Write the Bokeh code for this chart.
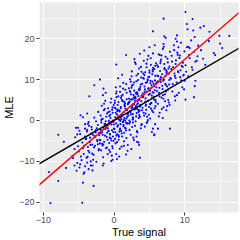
from bokeh.plotting import figure
from bokeh.models import FixedTicker, Slope, ColumnDataSource
from bokeh.embed import file_html
from bokeh.resources import INLINE

# ---- data ----
outlier_x = [7.0,5.5,7.1,7.3,5.75,5.0,7.0,1.7,0.3,
    10.1,11.1,10.3,11.2,12.7,12.2,10.4,11.4,13.5,14.9,16.3,8.9,8.7,15.3,14.3,12.6,11.5,10.5,10.7,9.1,8.9,
    10.1,11.3,8.6,10.0,8.7,
    -2.0,-2.8,-1.5,-3.5,-1.2,-4.75,-3.8,-4.4,-7.9,-5.2,-5.1,-4.1,-7.1,
    -5.1,-5.9,-6.8,-9.2,-7.9,-4.4,-2.9,-9.0,-4.5,-5.6,-4.8,-4.1,-3.6,-3.05,-1.6,-4.2,-3.8,-3.3,
    3.65,1.7,0.4,-0.2,-0.4,0.3,1.05,-0.7,-0.2,
    7.9,6.2,5.5,5.7,3.25]
outlier_y = [24.9,21.8,20.6,20.2,18.4,17.9,18.7,16.0,13.7,
    26.5,24.8,23.6,22.0,23.1,22.7,22.3,20.4,21.7,20.7,20.7,20.8,20.0,17.7,16.0,15.1,14.4,18.0,17.7,17.9,19.3,
    5.1,5.7,5.9,9.7,10.4,
    10.0,8.6,7.8,5.9,6.8,1.25,1.7,0.8,-3.5,-3.4,-1.8,-2.0,-5.2,
    -6.3,-8.7,-11.6,-12.6,-14.8,-15.2,-16.0,-20.2,-20.1,-11.0,-10.7,-11.2,-11.9,-11.0,-11.0,-12.7,-10.3,-10.0,
    -9.1,-8.3,-9.4,-9.6,-9.9,-8.2,-6.4,-7.2,-6.8,
    -2.0,-2.0,-2.0,-3.4,-5.2]

b1_x = [-5.8,-5.5,-5.3,-5.0,-4.9,-4.7,-4.5,-4.3,-4.2,-4.1,-5.6,-5.2,-4.8,-4.6,-4.4,-4.0,-5.4,-4.9,-4.3,-4.1]
b1_y = [-9.2,-4.1,-12.3,-7.6,-2.5,-8.8,-5.4,-13.0,-6.1,-0.9,-7.0,-10.4,-3.3,-9.7,-6.8,-4.6,-1.8,-11.5,-8.2,-3.9]

b2_x = [-3.9,-3.8,-3.7,-3.6,-3.5,-3.4,-3.3,-3.2,-3.1,-3.0,
    -2.9,-2.8,-2.7,-2.6,-2.5,-2.4,-2.3,-2.2,-2.1,-2.0,
    -3.95,-3.75,-3.55,-3.35,-3.15,-2.95,-2.75,-2.55,-2.35,-2.15,
    -3.85,-3.45,-3.05,-2.65,-2.25,-3.65,-3.25,-2.85,-2.45,-2.05,
    -3.7,-3.1,-2.6,-2.3,-2.1]
b2_y = [-9.1,-2.3,-6.5,-0.4,-7.8,-4.2,-11.0,-1.6,-5.9,-3.5,
    -8.4,0.7,-6.2,-2.9,-10.1,-4.8,-1.1,-7.3,-3.0,-5.6,
    -4.4,-8.9,-1.3,-6.0,-2.2,-9.6,-3.8,-0.2,-5.1,-7.0,
    -2.7,-5.3,-12.2,-4.0,2.1,-7.4,-3.2,-6.6,-1.9,-4.7,
    -0.8,-8.1,-2.4,-5.8,-3.6]

b3_x = [-1.95,-1.9,-1.85,-1.8,-1.75,-1.7,-1.65,-1.6,-1.55,-1.5,
    -1.45,-1.4,-1.35,-1.3,-1.25,-1.2,-1.15,-1.1,-1.05,-1.0,
    -0.95,-0.9,-0.85,-0.8,-0.75,-0.7,-0.65,-0.6,-0.55,-0.5,
    -0.45,-0.4,-0.35,-0.3,-0.25,-0.2,-0.15,-0.1,-0.05,-0.02,
    -1.92,-1.72,-1.52,-1.32,-1.12,-0.92,-0.72,-0.52,-0.32,-0.12,
    -1.82,-1.62,-1.42,-1.22,-1.02,-0.82,-0.62,-0.42,-0.22,-0.08,
    -1.88,-1.58,-1.28,-0.98,-0.68,-0.38,-0.18,-1.48,-0.88,-0.28,
    -1.68,-1.18,-0.78,-0.48,-0.58]
b3_y = [-4.8,1.2,-7.3,-0.5,3.6,-2.9,-6.1,0.4,-9.0,-1.8,
    2.5,-5.2,-0.9,-3.7,4.8,-2.1,-6.8,0.9,-4.0,1.7,
    -1.3,-8.2,3.0,-2.6,-0.1,-5.5,2.2,-3.3,-7.7,0.6,
    -4.4,5.3,-1.0,-2.4,-6.3,1.9,-3.9,-0.4,3.8,-2.0,
    -3.1,0.3,-5.9,2.8,-1.6,-4.7,-0.7,1.4,-8.6,-2.8,
    0.1,-3.5,4.1,-1.2,-6.6,2.0,-4.2,-0.3,3.2,-5.0,
    -2.3,6.2,-0.8,-3.0,1.1,-4.9,0.0,-10.5,-1.9,2.6,
    -5.7,-0.2,-2.5,4.4,-3.4]

b4_x = [0.05,0.1,0.15,0.2,0.25,0.3,0.35,0.4,0.45,0.5,
    0.55,0.6,0.65,0.7,0.75,0.8,0.85,0.9,0.95,1.0,
    1.05,1.1,1.15,1.2,1.25,1.3,1.35,1.4,1.45,1.5,
    1.55,1.6,1.65,1.7,1.75,1.8,1.85,1.9,1.95,1.98,
    0.08,0.18,0.28,0.38,0.48,0.58,0.68,0.78,0.88,0.98,
    1.08,1.18,1.28,1.38,1.48,1.58,1.68,1.78,1.88,0.02,
    0.12,0.32,0.52,0.72,0.92,1.12,1.32,1.52,1.72,1.92,
    0.22,0.42,0.62,0.82,1.02,1.22,1.42,1.62,1.82,0.14,
    0.34,0.54,0.74,0.94,1.14,1.34,1.54,1.74,1.94,0.44,
    0.64,0.84,1.04,1.24,1.44,1.64,1.84,0.24,0.86,1.36]
b4_y = [-2.1,4.3,0.8,-5.6,2.9,-0.7,7.1,1.5,-3.4,3.8,
    -1.2,5.9,-4.7,0.2,2.4,-6.9,8.3,-0.9,3.3,-2.6,
    6.0,1.1,-3.9,4.7,-0.3,9.2,2.0,-5.1,0.6,3.6,
    -1.8,7.5,-0.5,2.7,-4.3,5.2,0.9,-7.4,4.0,1.8,
    3.1,-2.9,6.6,0.4,-1.5,10.3,-4.0,2.2,-0.1,5.5,
    -3.2,1.3,7.8,-6.2,3.9,0.0,-2.4,6.8,1.6,-1.0,
    4.9,-3.7,2.6,-8.8,0.7,5.0,-1.4,3.4,8.9,-0.6,
    1.9,-5.3,4.5,-2.2,0.3,6.3,-3.0,2.8,-0.8,-4.5,
    5.7,1.0,-2.7,3.0,11.2,-1.1,4.2,0.5,-6.0,2.3,
    -3.6,7.0,1.4,-0.4,4.6,-1.9,2.5,8.1,-2.0,0.1]

b5_x = [2.02,2.1,2.15,2.2,2.25,2.3,2.35,2.4,2.45,2.5,
    2.55,2.6,2.65,2.7,2.75,2.8,2.85,2.9,2.95,3.0,
    3.05,3.1,3.15,3.2,3.25,3.3,3.35,3.4,3.45,3.5,
    3.55,3.6,3.65,3.7,3.75,3.8,3.85,3.9,3.95,3.98,
    2.08,2.18,2.28,2.38,2.48,2.58,2.68,2.78,2.88,2.98,
    3.08,3.18,3.28,3.38,3.48,3.58,3.68,3.78,3.88,2.12,
    2.32,2.52,2.72,2.92,3.12,3.32,3.52,3.72,3.92,2.22,
    2.42,2.62,2.82,3.02,3.22,3.42,3.62,3.82,2.06,2.26,
    2.46,2.66,2.86,3.06,3.26,3.46,3.66,3.86,2.16,2.36,
    2.56,2.76,2.96,3.16,3.36,3.56,3.76,3.96,2.44,2.84,
    3.24,3.64,2.64,3.04,3.44]
b5_y = [1.2,7.9,-0.8,4.6,10.1,2.3,-3.5,6.4,3.0,12.0,
    -1.6,5.2,8.7,0.4,4.1,-4.8,7.3,2.7,14.2,5.8,
    -0.2,3.5,9.6,1.8,6.9,-2.9,4.8,11.4,2.1,7.6,
    -6.0,5.0,0.9,8.2,3.8,13.1,-1.1,6.1,2.5,9.0,
    4.3,-2.3,7.0,1.5,10.8,3.2,-0.5,5.6,15.0,2.9,
    6.7,-3.9,4.0,9.9,0.6,7.4,3.4,-1.9,11.9,5.3,
    2.0,8.5,-4.2,4.9,1.0,6.6,12.7,3.7,-0.9,7.2,
    5.1,0.2,9.3,3.1,-2.6,6.0,2.4,10.5,4.4,-0.4,
    8.0,1.6,5.5,13.8,2.8,-5.4,7.7,4.7,0.0,9.5,
    3.6,6.2,-1.3,11.0,4.2,1.3,8.8,5.9,-7.0,3.9,
    6.5,16.3,0.8,5.4,2.6]

b6_x = [4.02,4.1,4.15,4.2,4.25,4.3,4.35,4.4,4.45,4.5,
    4.55,4.6,4.65,4.7,4.75,4.8,4.85,4.9,4.95,5.0,
    5.05,5.1,5.15,5.2,5.25,5.3,5.35,5.4,5.45,5.5,
    5.55,5.6,5.65,5.7,5.75,5.8,5.85,5.9,5.95,5.98,
    4.08,4.18,4.28,4.38,4.48,4.58,4.68,4.78,4.88,4.98,
    5.08,5.18,5.28,5.38,5.48,5.58,5.68,5.78,5.88,4.12,
    4.32,4.52,4.72,4.92,5.12,5.32,5.52,5.72,5.92,4.22,
    4.42,4.62,4.82,5.02,5.22,5.42,5.62,5.82,4.06,4.46,
    4.86,5.26,5.66,4.26,4.66,5.06,5.46,5.86,4.76,5.36]
b6_y = [3.1,10.4,6.0,14.6,1.2,8.3,-1.5,11.8,5.4,9.2,
    2.6,13.0,7.1,-0.3,10.0,4.8,15.8,7.9,3.3,12.2,
    6.5,0.5,9.7,13.6,4.2,8.6,-2.8,11.3,6.9,16.4,
    2.0,9.0,5.1,12.6,7.4,-0.9,10.9,4.5,14.0,8.1,
    5.7,1.9,11.1,7.6,3.6,13.9,9.4,0.1,6.3,10.7,
    4.0,15.2,8.0,2.4,12.0,6.8,-3.6,9.8,5.0,11.5,
    7.0,3.9,14.9,1.4,9.1,6.1,12.9,3.0,8.9,10.2,
    4.6,-0.6,7.8,11.7,2.9,9.5,5.8,13.4,6.6,1.7,
    10.6,4.3,8.4,17.1,0.9,7.3,12.4,3.5,9.9,5.5]

b7_x = [6.05,6.1,6.2,6.25,6.3,6.4,6.45,6.5,6.6,6.65,
    6.7,6.8,6.85,6.9,7.0,7.05,7.1,7.2,7.25,7.3,
    7.4,7.45,7.5,7.6,7.65,7.7,7.8,7.85,7.9,7.95,
    6.15,6.35,6.55,6.75,6.95,7.15,7.35,7.55,7.75,6.02,
    6.22,6.42,6.62,6.82,7.02,7.22,7.42,7.62,7.82,6.32,
    6.52,6.72,6.92,7.12,7.32,7.52,7.72,6.18,6.58,6.98,
    7.38,7.78,6.48,6.88,7.28]
b7_y = [7.2,13.5,4.1,10.8,16.2,8.0,1.9,12.1,9.4,14.9,
    5.6,11.3,7.7,17.5,3.2,10.0,13.8,6.4,9.0,15.6,
    2.5,11.9,8.3,14.2,5.0,12.7,9.9,3.8,16.8,10.4,
    11.0,6.8,14.0,2.8,9.7,12.5,7.1,15.1,4.4,9.3,
    13.1,5.9,10.6,8.5,18.0,4.7,11.6,7.5,13.2,1.0,
    10.1,15.9,6.2,12.8,8.7,3.5,11.4,9.6,14.5,5.3,
    12.3,8.8,16.0,0.6,10.9]

b8_x = [8.05,8.15,8.25,8.35,8.45,8.55,8.65,8.75,8.85,8.95,
    9.05,9.15,9.25,9.35,9.45,9.55,9.65,9.75,9.85,9.95,
    8.1,8.3,8.5,8.7,8.9,9.1,9.3,9.5,9.7,9.9,
    8.2,8.6,9.0,9.4,9.8]
b8_y = [10.2,15.8,7.1,13.0,18.4,11.5,4.9,14.7,9.3,16.6,
    12.0,6.8,15.3,10.6,19.0,13.4,8.1,14.1,11.2,16.9,
    12.6,8.9,17.2,13.8,6.2,11.8,15.9,9.8,13.1,7.6,
    14.4,10.9,16.1,12.3,11.0]

b9_x = [10.1,10.3,10.5,10.7,10.9,11.1,11.3,11.5,11.7,11.9,10.2,10.6,11.0,11.4,11.8,
    12.3,12.9,13.4,14.1,15.0]
b9_y = [13.5,17.9,10.8,15.2,19.6,12.4,16.8,9.7,14.6,18.3,11.9,16.0,13.0,8.4,15.7,
    17.2,13.6,19.4,16.5,18.8]

# fitted lines
red_slope, red_intercept = 1.49, 0.05
black_slope, black_intercept = 1.0, 0.0

x_ticks = [-10, 0, 10]
x_minor = [-5, 5, 15]
y_ticks = [-20, -10, 0, 10, 20]
y_minor = [-15, -5, 5, 15, 25]

# ---- assemble ----
true_signal, mle = [], []
for bx, by in [(outlier_x, outlier_y), (b1_x, b1_y), (b2_x, b2_y), (b3_x, b3_y),
               (b4_x, b4_y), (b5_x, b5_y), (b6_x, b6_y), (b7_x, b7_y),
               (b8_x, b8_y), (b9_x, b9_y)]:
    n = min(len(bx), len(by))
    true_signal += bx[:n]
    mle += by[:n]

src = ColumnDataSource(dict(x=true_signal, y=mle))

p = figure(width=240, height=240, x_range=(-10.55, 17.6), y_range=(-22.5, 28.85),
           output_backend="svg", toolbar_location=None,
           min_border_left=32, min_border_right=2, min_border_top=2, min_border_bottom=0,
           styles={"position": "absolute", "left": "0px", "top": "0px"})
p.background_fill_color = "#EBEBEB"
p.border_fill_color = "white"
p.outline_line_color = None

p.xaxis.ticker = FixedTicker(ticks=x_ticks, minor_ticks=x_minor)
p.yaxis.ticker = FixedTicker(ticks=y_ticks, minor_ticks=y_minor)
p.xaxis.major_label_overrides = {t: str(t).replace("-", "\u2212") for t in x_ticks}
p.yaxis.major_label_overrides = {t: str(t).replace("-", "\u2212") for t in y_ticks}

for ax in (p.xaxis, p.yaxis):
    ax.axis_line_color = None
    ax.major_tick_in = 0
    ax.major_tick_out = 3
    ax.major_tick_line_color = "#333333"
    ax.minor_tick_line_color = None
    ax.major_label_text_font = "Liberation Sans"
    ax.major_label_text_font_size = "9px"
    ax.major_label_text_color = "#4D4D4D"
    ax.major_label_standoff = 1
    ax.axis_label_text_font = "Liberation Sans"
    ax.axis_label_text_font_size = "11px"
    ax.axis_label_text_font_style = "normal"
    ax.axis_label_text_color = "black"
    ax.axis_label_standoff = 1
p.xaxis.axis_label = "True signal"
p.yaxis.axis_label = "MLE"
p.xaxis.major_label_standoff = 0
p.xaxis.axis_label_standoff = 0

p.grid.grid_line_color = "white"
p.grid.grid_line_width = 1.1
p.grid.minor_grid_line_color = "white"
p.grid.minor_grid_line_width = 0.55

p.scatter("x", "y", source=src, size=2.1, fill_color="blue", line_color=None)

p.add_layout(Slope(gradient=red_slope, y_intercept=red_intercept, line_color="red", line_width=1.4))
p.add_layout(Slope(gradient=black_slope, y_intercept=black_intercept, line_color="black", line_width=1.4))

open("out.html", "w").write(file_html(p, INLINE))
